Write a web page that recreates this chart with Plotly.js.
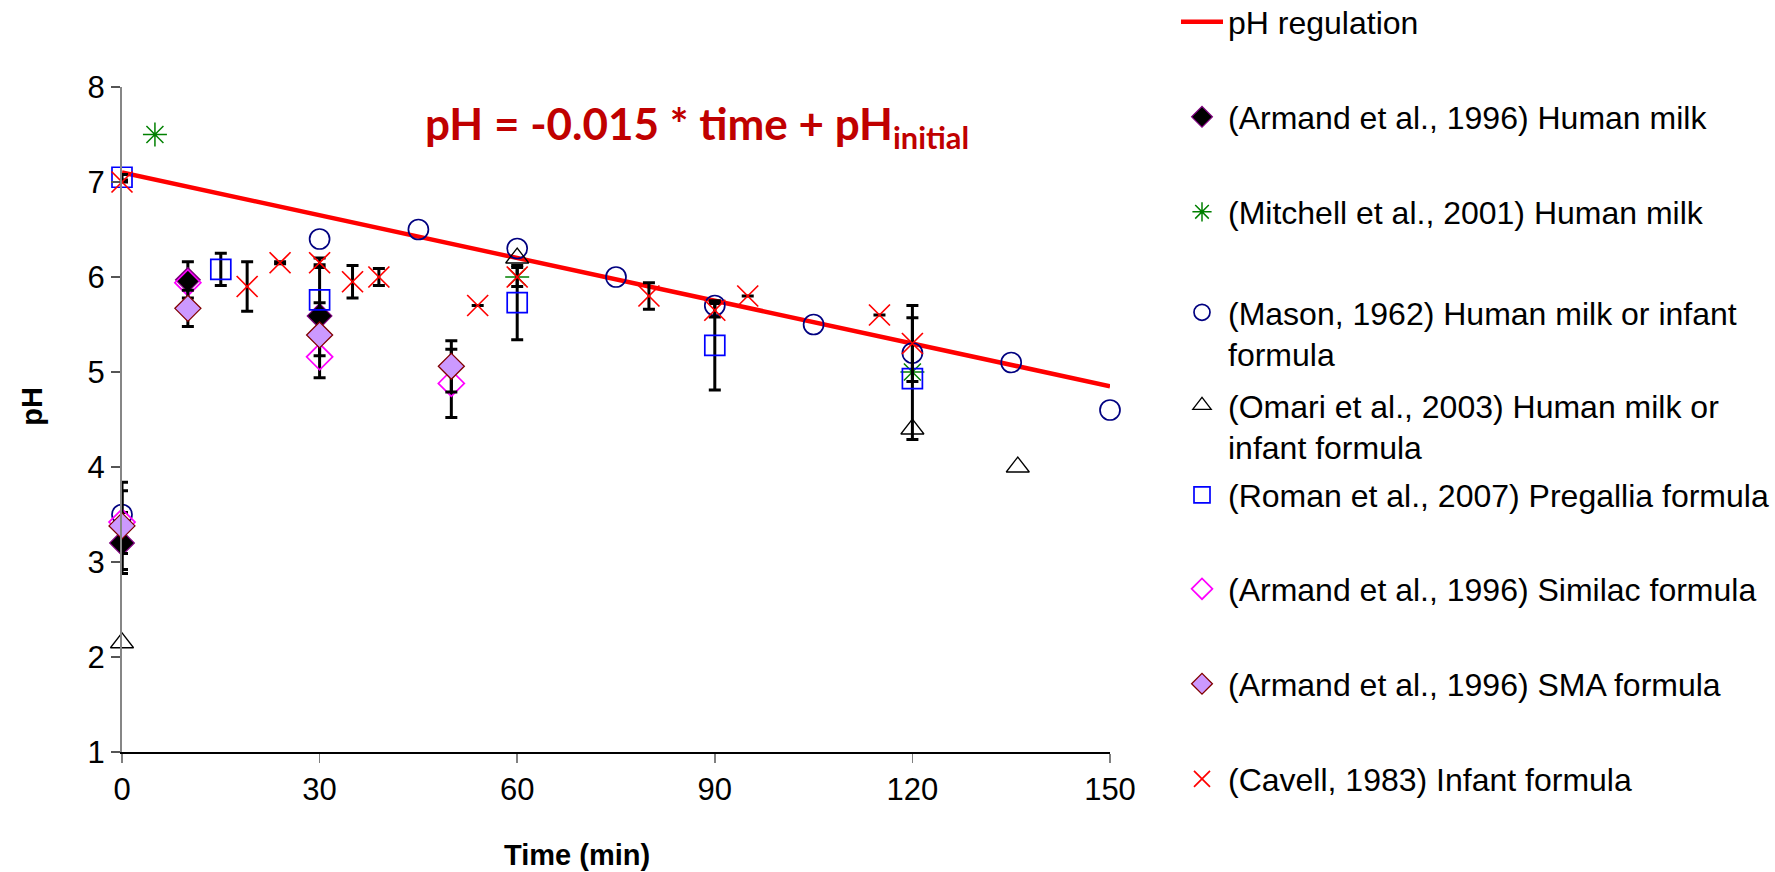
<!DOCTYPE html>
<html>
<head>
<meta charset="utf-8">
<script src="https://cdn.plot.ly/plotly-3.0.1.min.js"></script>
<style>
  html, body { margin: 0; padding: 0; background: #ffffff; }
  #chart { width: 1775px; height: 872px; }
</style>
</head>
<body>
<div id="chart"></div>
<script>
// ---- Data ----
// pH regulation line
const lineTime = [0, 150];
const linePH = [7.1, 4.85];

// (Armand et al., 1996) Human milk
const armandHMTime = [0, 10, 30];
const armandHMPH = [3.2, 5.97, 5.59];
const armandHMErr = [0.32, 0.19, 0.14];

// (Mitchell et al., 2001) Human milk
const mitchellTime = [5, 60, 120];
const mitchellPH = [7.5, 6.0, 5.0];

// (Mason, 1962) Human milk or infant formula
const masonTime = [0, 30, 45, 60, 75, 90, 105, 120, 135, 150];
const masonPH = [3.5, 6.4, 6.5, 6.3, 6.0, 5.7, 5.5, 5.2, 5.1, 4.6];

// (Omari et al., 2003) Human milk or infant formula
const omariTime = [0, 60, 120, 136];
const omariPH = [2.15, 6.2, 4.4, 4.0];

// (Roman et al., 2007) Pregallia formula
const romanTime = [0, 15, 30, 60, 90, 120];
const romanPH = [7.05, 6.08, 5.76, 5.73, 5.28, 4.93];
const romanErr = [0.03, 0.17, 0.37, 0.39, 0.47, 0.64];

// (Armand et al., 1996) Similac formula
const similacTime = [0, 10, 30, 50];
const similacPH = [3.42, 5.94, 5.16, 4.88];
const similacErr = [0.33, 0.0, 0.22, 0.36];

// (Armand et al., 1996) SMA formula
const smaTime = [0, 10, 30, 50];
const smaPH = [3.38, 5.67, 5.39, 5.06];
const smaErr = [0.46, 0.19, 0.22, 0.27];

// (Cavell, 1983) Infant formula
const cavellTime = [0, 19, 24, 30, 35, 39, 54, 60, 80, 90, 95, 115, 120];
const cavellPH = [7.0, 5.9, 6.15, 6.15, 5.95, 6.0, 5.7, 6.0, 5.8, 5.65, 5.8, 5.6, 5.3];
const cavellErr = [0, 0.26, 0.01, 0.05, 0.17, 0.09, 0, 0.1, 0.14, 0.07, 0, 0, 0.4];

const xTicks = [0, 30, 60, 90, 120, 150];
const yTicks = [1, 2, 3, 4, 5, 6, 7, 8];

const legendNames = [
  'pH regulation',
  '(Armand et al., 1996) Human milk',
  '(Mitchell et al., 2001) Human milk',
  '(Mason, 1962) Human milk or infant<br>formula',
  '(Omari et al., 2003) Human milk or<br>infant formula',
  '(Roman et al., 2007) Pregallia formula',
  '(Armand et al., 1996) Similac formula',
  '(Armand et al., 1996) SMA formula',
  '(Cavell, 1983) Infant formula'
];

// ---- Styling ----
const errStyle = (arr) => ({ type: 'data', array: arr, visible: true, color: '#000000', thickness: 3, width: 6 });

const traces = [
  { x: lineTime, y: linePH, mode: 'lines', name: legendNames[0], legend: 'legend',
    line: { color: '#FF0000', width: 4.5 } },
  { x: armandHMTime, y: armandHMPH, mode: 'markers', name: legendNames[1], legend: 'legend2',
    error_y: errStyle(armandHMErr),
    marker: { symbol: 'diamond', size: 19, color: '#000000', line: { color: '#800080', width: 1.2 } } },
  { x: mitchellTime, y: mitchellPH, mode: 'markers', name: legendNames[2], legend: 'legend3',
    marker: { symbol: 'asterisk-open', size: 20, color: '#008000', line: { color: '#008000', width: 1.5 } } },
  { x: masonTime, y: masonPH, mode: 'markers', name: legendNames[3], legend: 'legend4',
    marker: { symbol: 'circle-open', size: 20, color: '#000080', line: { color: '#000080', width: 1.7 } } },
  { x: omariTime, y: omariPH, mode: 'markers', name: legendNames[4], legend: 'legend5',
    marker: { symbol: 'triangle-up-open', size: 20, color: '#000000', line: { color: '#000000', width: 1.3 } } },
  { x: romanTime, y: romanPH, mode: 'markers', name: legendNames[5], legend: 'legend6',
    error_y: errStyle(romanErr),
    marker: { symbol: 'square-open', size: 20, color: '#0000FF', line: { color: '#0000FF', width: 1.7 } } },
  { x: similacTime, y: similacPH, mode: 'markers', name: legendNames[6], legend: 'legend7',
    error_y: errStyle(similacErr),
    marker: { symbol: 'diamond-open', size: 20, color: '#FF00FF', line: { color: '#FF00FF', width: 1.7 } } },
  { x: smaTime, y: smaPH, mode: 'markers', name: legendNames[7], legend: 'legend8',
    error_y: errStyle(smaErr),
    marker: { symbol: 'diamond', size: 20, color: '#CC99FF', line: { color: '#800000', width: 1.3 } } },
  { x: cavellTime, y: cavellPH, mode: 'markers', name: legendNames[8], legend: 'legend9',
    error_y: errStyle(cavellErr),
    marker: { symbol: 'x-thin-open', size: 21, color: '#FF0000', line: { color: '#FF0000', width: 1.7 } } }
];
traces.forEach(t => { t.type = 'scatter'; t.cliponaxis = false; });

const legendY = [22, 117, 212, 307, 400, 495, 589, 684, 779];
const legendFont = { family: 'Liberation Sans, Arial, sans-serif', size: 32, color: '#000000' };
const legends = {};
legendY.forEach((py, i) => {
  const key = i === 0 ? 'legend' : 'legend' + (i + 1);
  const twoLine = (i === 3 || i === 4);
  legends[key] = {
    xref: 'container', yref: 'container',
    x: 1176 / 1775,
    y: twoLine ? 1 - (py - 22) / 872 : 1 - py / 872,
    xanchor: 'left', yanchor: twoLine ? 'top' : 'middle',
    valign: 'top',
    bgcolor: 'rgba(0,0,0,0)', borderwidth: 0,
    font: legendFont, itemwidth: 42, itemclick: false, itemdoubleclick: false
  };
});

const layout = Object.assign({
  width: 1775, height: 872,
  paper_bgcolor: '#ffffff', plot_bgcolor: '#ffffff',
  margin: { l: 122, r: 665, t: 87, b: 120, pad: 0 },
  showlegend: true,
  font: { family: 'Liberation Sans, Arial, sans-serif', color: '#000000' },
  xaxis: {
    range: [0, 150], tickvals: xTicks, ticktext: xTicks.map(String),
    showgrid: false, zeroline: false, showline: true, linecolor: '#000000', linewidth: 2,
    ticks: 'outside', ticklen: 9, tickwidth: 1.5, tickcolor: '#808080',
    tickfont: { size: 31, color: '#000000' }, automargin: false
  },
  yaxis: {
    range: [1, 8], tickvals: yTicks, ticktext: yTicks.map(String),
    showgrid: false, zeroline: false, showline: true, linecolor: '#868686', linewidth: 2,
    ticks: 'outside', ticklen: 9, tickwidth: 1.5, tickcolor: '#555555',
    tickfont: { size: 31, color: '#000000' }, automargin: false
  },
  annotations: [
    { text: 'pH = -0.015 * time + pH<sub>initial</sub>', xref: 'paper', yref: 'paper',
      x: 0.3047, y: 0.94, xanchor: 'left', yanchor: 'middle', showarrow: false,
      font: { family: 'Lato, Open Sans, sans-serif', size: 44, color: '#C00000', weight: 'bold' } },
    { text: '<b>Time (min)</b>', xref: 'paper', yref: 'paper', x: 0.4605, y: -0.155,
      xanchor: 'center', yanchor: 'middle', showarrow: false,
      font: { size: 29, color: '#000000' } },
    { text: '<b>pH</b>', xref: 'paper', yref: 'paper', x: -0.0906, y: 0.52, textangle: -90,
      xanchor: 'center', yanchor: 'middle', showarrow: false,
      font: { size: 29, color: '#000000' } }
  ]
}, legends);

Plotly.newPlot('chart', traces, layout, { displayModeBar: false, staticPlot: true });
</script>
</body>
</html>
